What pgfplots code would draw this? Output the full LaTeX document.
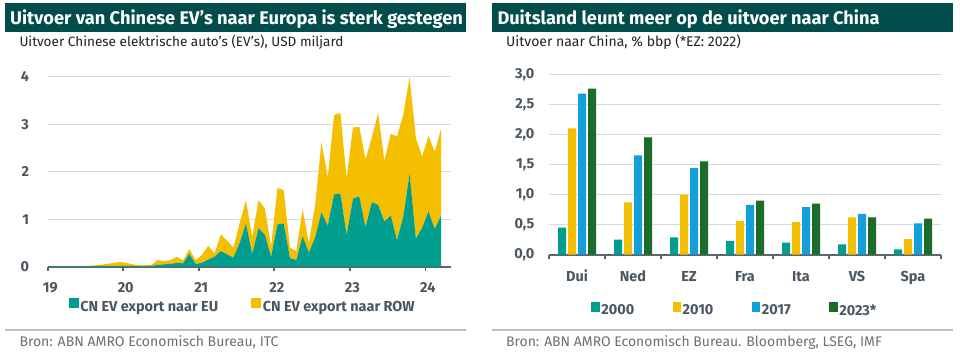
\documentclass[border=0pt]{standalone}
\usepackage{fontspec}
\setmainfont{Fira Sans}
\usepackage{graphicx}
\usepackage{pgfplots}
\pgfplotsset{compat=1.18}
\usepackage{pgfplotstable}

\definecolor{titlebg}{HTML}{004D4B}
\definecolor{cteal}{HTML}{009E8F}
\definecolor{cyellow}{HTML}{F3BF00}
\definecolor{cblue}{HTML}{149FDA}
\definecolor{cgreen}{HTML}{1B6B2A}
\definecolor{axgray}{HTML}{5A6770}
\definecolor{gridgray}{HTML}{DADADA}
\definecolor{tickgray}{HTML}{4A5660}
\definecolor{footgray}{HTML}{6F6F6F}
\definecolor{subtext}{HTML}{222222}
\definecolor{sepgray}{HTML}{BDBDBD}

\pgfplotstableread{
x eu row
19.042 0.01 0.01
19.125 0.01 0.01
19.208 0.01 0.01
19.292 0.01 0.01
19.375 0.01 0.01
19.458 0.01 0.01
19.542 0.01 0.01
19.625 0.01 0.02
19.708 0.02 0.02
19.792 0.02 0.04
19.875 0.02 0.06
19.958 0.02 0.08
20.042 0.02 0.06
20.125 0.02 0.03
20.208 0.02 0.01
20.292 0.02 0.01
20.375 0.02 0.02
20.458 0.04 0.10
20.542 0.05 0.07
20.625 0.06 0.08
20.708 0.08 0.13
20.792 0.07 0.06
20.875 0.27 0.10
20.958 0.06 0.08
21.042 0.08 0.17
21.125 0.15 0.29
21.208 0.21 0.07
21.292 0.33 0.35
21.375 0.26 0.29
21.458 0.19 0.21
21.542 0.50 0.42
21.625 0.91 0.49
21.708 0.27 0.36
21.792 0.81 0.59
21.875 0.67 0.56
21.958 0.21 0.22
22.042 0.89 0.77
22.125 0.91 0.70
22.208 0.18 0.22
22.292 0.14 0.19
22.375 0.64 0.57
22.458 0.30 0.20
22.542 0.62 0.68
22.625 1.14 1.49
22.708 0.86 1.02
22.792 1.52 1.67
22.875 1.54 1.70
22.958 0.67 1.19
23.042 1.43 1.50
23.125 1.48 1.47
23.208 0.83 1.43
23.292 1.36 1.36
23.375 1.30 1.94
23.458 0.95 1.28
23.542 1.08 1.72
23.625 0.56 2.18
23.708 1.05 2.15
23.792 1.96 2.03
23.875 0.59 2.12
23.958 0.82 1.50
24.042 1.16 1.59
24.125 0.79 1.63
24.208 1.07 1.83
}\evdata

\pgfplotstableread{
x y2000 y2010 y2017 y2023
0 0.45 2.10 2.68 2.76
1 0.25 0.87 1.65 1.95
2 0.29 1.00 1.44 1.55
3 0.23 0.56 0.83 0.90
4 0.20 0.54 0.79 0.85
5 0.17 0.62 0.68 0.62
6 0.09 0.26 0.52 0.60
}\gdpdata

\pgfplotsset{
  mybase/.style={
    scale only axis,
    axis x line*=bottom, axis y line*=left,
    y axis line style={draw=none},
    x axis line style={-, draw=axgray, line width=2.3bp},
    ymajorgrids, grid style={gridgray, line width=1.2bp},
    ytick style={draw=none},
    tick align=outside,
    ticklabel style={font=\fontsize{14.5}{15}\selectfont\bfseries, text=tickgray},
    /pgf/number format/assume math mode=true,
    yticklabel style={anchor=east, inner sep=0pt, xshift=-14.5bp},
    legend style={draw=none, fill=none, font=\fontsize{14.5}{15}\selectfont\bfseries, text=tickgray,
      nodes={inner sep=1.8bp}},
  }
}

\begin{document}
\begin{tikzpicture}
\useasboundingbox (0bp,0bp) rectangle (960bp,-355bp);
\fill[white] (0bp,0bp) rectangle (960bp,-355bp);

% titles
\fill[titlebg] (5bp,-3.3bp) rectangle (466bp,-31.7bp);
\fill[titlebg] (492.3bp,-3.3bp) rectangle (952.7bp,-31.7bp);
\node[anchor=base west, inner sep=0pt, text=white] at (10bp,-24.3bp)
  {\resizebox{452.7bp}{!}{\bfseries Uitvoer van Chinese EV’s naar Europa is sterk gestegen}};
\node[anchor=base west, inner sep=0pt, text=white] at (497.3bp,-24.3bp)
  {\resizebox{382bp}{!}{\bfseries Duitsland leunt meer op de uitvoer naar China}};
\node[anchor=base west, inner sep=0pt, text=subtext] at (19.3bp,-46.7bp)
  {\resizebox{324bp}{!}{Uitvoer Chinese elektrische auto’s (EV’s), USD miljard}};
\node[anchor=base west, inner sep=0pt, text=subtext] at (506bp,-46.7bp)
  {\resizebox{234.7bp}{!}{Uitvoer naar China, \% bbp (*EZ: 2022)}};

% footers
\draw[sepgray, line width=1.8bp] (5bp,-330bp) -- (466bp,-330bp);
\draw[sepgray, line width=1.8bp] (492.3bp,-330bp) -- (953bp,-330bp);
\node[anchor=base west, inner sep=0pt, text=footgray] at (19.3bp,-346bp)
  {\resizebox{259bp}{!}{Bron: ABN AMRO Economisch Bureau, ITC}};
\node[anchor=base west, inner sep=0pt, text=footgray] at (506bp,-346bp)
  {\resizebox{375.7bp}{!}{Bron: ABN AMRO Economisch Bureau. Bloomberg, LSEG, IMF}};

% left chart
\begin{axis}[mybase,
  at={(47.7bp,-266.7bp)}, anchor=south west,
  width=403.3bp, height=190bp,
  xmin=19, xmax=24.34, ymin=0, ymax=4,
  xtick={19,...,24}, ytick={0,...,4},
  xticklabel style={anchor=base, inner sep=0pt, yshift=-22bp, xshift=2.5bp},
  major tick length=4bp,
  xtick style={draw=axgray, line width=1.6bp},
  stack plots=y,
  legend columns=2,
  legend style={at={(0.483,-0.2105)}, anchor=center,
    /tikz/every even column/.append style={column sep=31bp}},
  legend image code/.code={\fill[#1] (0bp,-1bp) rectangle (10bp,9bp);},
]
\addplot[fill=cteal, draw=none] table[x=x, y=eu] {\evdata} \closedcycle;
\addlegendentry{CN EV export naar EU}
\addplot[fill=cyellow, draw=none] table[x=x, y=row] {\evdata} \closedcycle;
\addlegendentry{CN EV export naar ROW}
\end{axis}

% right chart
\begin{axis}[mybase,
  at={(549bp,-254.7bp)}, anchor=south west,
  width=392bp, height=180.4bp,
  xmin=-0.5, xmax=6.5, ymin=0, ymax=3,
  ybar=2bp, bar width=8bp,
  xtick={0,...,6}, xticklabels={Dui,Ned,EZ,Fra,Ita,VS,Spa},
  xticklabel style={anchor=base, inner sep=0pt, yshift=-27bp},
  minor xtick={-0.5,0.5,...,6.5},
  major tick length=0bp, minor tick length=4bp,
  minor tick style={draw=axgray, line width=1.6bp},
  ytick={0,0.5,...,3},
  yticklabel style={/pgf/number format/.cd, fixed, fixed zerofill, precision=1, use comma},
  legend columns=4,
  legend style={at={(0.474,-0.309)}, anchor=center,
    /tikz/every even column/.append style={column sep=36.5bp}},
  legend image code/.code={\fill[#1] (0bp,-1bp) rectangle (8.3bp,8.3bp);},
]
\addplot[fill=cteal, draw=none] table[x=x, y=y2000] {\gdpdata};
\addlegendentry{2000}
\addplot[fill=cyellow, draw=none] table[x=x, y=y2010] {\gdpdata};
\addlegendentry{2010}
\addplot[fill=cblue, draw=none] table[x=x, y=y2017] {\gdpdata};
\addlegendentry{2017}
\addplot[fill=cgreen, draw=none] table[x=x, y=y2023] {\gdpdata};
\addlegendentry{2023*}
\end{axis}
\end{tikzpicture}
\end{document}
